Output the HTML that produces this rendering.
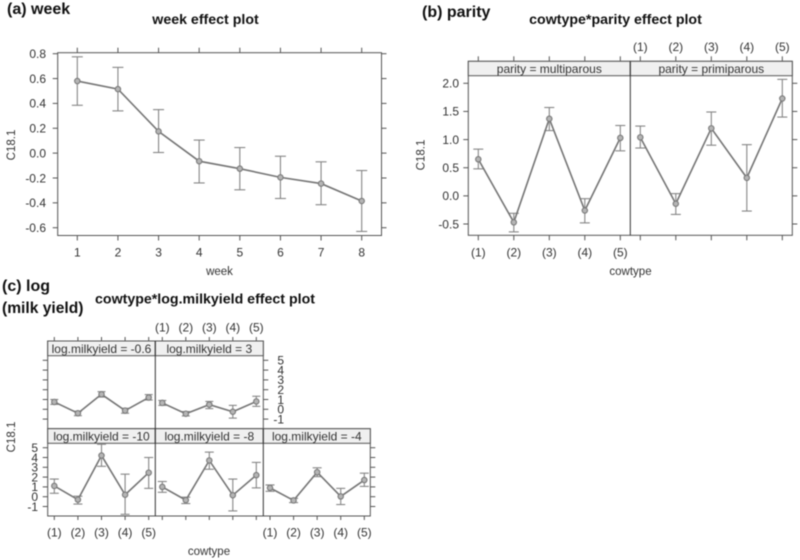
<!DOCTYPE html>
<html>
<head>
<meta charset="utf-8">
<style>
html,body{margin:0;padding:0;background:#fff;width:800px;height:560px;overflow:hidden}
svg{display:block;filter:blur(0.4px)}
text{font-family:"Liberation Sans",sans-serif;fill:#333}
.h{font-weight:bold;fill:#111}
</style>
</head>
<body>
<svg id="chart" xmlns="http://www.w3.org/2000/svg" width="800" height="560" viewBox="0 0 800 560">
<text class="h" x="7" y="14" font-size="16">(a) week</text>
<text class="h" x="205.5" y="24" font-size="14.2" text-anchor="middle">week effect plot</text>
<text class="h" x="422" y="17" font-size="16">(b) parity</text>
<text class="h" x="615.5" y="24" font-size="14.2" text-anchor="middle">cowtype*parity effect plot</text>
<text class="h" x="2" y="291" font-size="16">(c) log</text>
<text class="h" x="2" y="313" font-size="15.6">(milk yield)</text>
<text class="h" x="205" y="303.5" font-size="14.2" text-anchor="middle">cowtype*log.milkyield effect plot</text>
</svg>
<script>
// ---- data: panel (a)
const weekCats = ['1','2','3','4','5','6','7','8'];
const weekMean = [0.58,0.515,0.175,-0.065,-0.125,-0.195,-0.245,-0.385];
const weekLo = [0.385,0.34,0.005,-0.24,-0.295,-0.365,-0.415,-0.63];
const weekHi = [0.775,0.69,0.35,0.105,0.045,-0.025,-0.07,-0.14];
const weekYTicks = ['0.8','0.6','0.4','0.2','0.0','-0.2','-0.4','-0.6'];
// ---- data: shared categories
const cowCats = ['(1)','(2)','(3)','(4)','(5)'];
// ---- data: panel (b)
const parityYTicks = ['2.0','1.5','1.0','0.5','0.0','-0.5'];
const multiMean = [0.65,-0.47,1.37,-0.26,1.03];
const multiLo = [0.48,-0.64,1.16,-0.48,0.80];
const multiHi = [0.83,-0.31,1.57,-0.05,1.25];
const primMean = [1.04,-0.14,1.20,0.32,1.73];
const primLo = [0.85,-0.33,0.90,-0.27,1.40];
const primHi = [1.24,0.04,1.49,0.91,2.07];
// ---- data: panel (c)
const milkYTicks = ['5','4','3','2','1','0','-1'];
const m06Mean = [0.75,-0.4,1.53,-0.13,1.2];
const m06Lo = [0.5,-0.65,1.25,-0.4,0.95];
const m06Hi = [1.0,-0.2,1.8,0.1,1.5];
const p3Mean = [0.65,-0.45,0.48,-0.25,0.8];
const p3Lo = [0.4,-0.68,0.07,-0.9,0.3];
const p3Hi = [0.9,-0.23,0.8,0.4,1.33];
const m10Mean = [1.1,-0.3,4.2,0.2,2.45];
const m10Lo = [0.35,-0.75,3.1,-1.8,0.85];
const m10Hi = [1.8,0.05,5.35,2.3,4.0];
const m8Mean = [1.0,-0.35,3.7,0.15,2.2];
const m8Lo = [0.45,-0.7,2.8,-1.45,0.9];
const m8Hi = [1.55,-0.05,4.55,1.8,3.5];
const m4Mean = [0.9,-0.38,2.5,0.03,1.7];
const m4Lo = [0.55,-0.6,2.05,-0.8,1.05];
const m4Hi = [1.2,-0.17,2.95,0.85,2.4];

const svg = document.getElementById('chart');
const NS = 'http://www.w3.org/2000/svg';
const FRAME = '#555';
const SER = '#757575';

function line(name, x1, y1, x2, y2, color, w) {
  const el = document.createElementNS(NS, 'line');
  
  
  el.setAttribute('x1', x1);
  el.setAttribute('y1', y1);
  el.setAttribute('x2', x2);
  el.setAttribute('y2', y2);
  el.setAttribute('stroke', color);
  el.setAttribute('stroke-width', w);
  svg.appendChild(el);
}
function rect(name, x, y, w, h, fill, stroke) {
  const el = document.createElementNS(NS, 'rect');
  
  
  el.setAttribute('x', x);
  el.setAttribute('y', y);
  el.setAttribute('width', w);
  el.setAttribute('height', h);
  el.setAttribute('fill', fill);
  el.setAttribute('stroke', stroke);
  el.setAttribute('stroke-width', 1);
  svg.appendChild(el);
}
function label(name, x, y, str, anchor, size, rot) {
  const el = document.createElementNS(NS, 'text');
  
  
  el.setAttribute('x', x);
  el.setAttribute('y', y);
  el.setAttribute('text-anchor', anchor);
  el.setAttribute('font-size', size);
  if (rot) el.setAttribute('transform', 'rotate(-90 ' + x + ' ' + y + ')');
  el.textContent = str;
  svg.appendChild(el);
}
function series(name, xf, yf, mean, lo, hi, capW) {
  mean.forEach(function (v, i) {
    const x = xf(i);
    line(name + '-error-bar', x, yf(lo[i]), x, yf(hi[i]), '#858585', 1.1);
    line(name + '-lower-cap', x - capW, yf(lo[i]), x + capW, yf(lo[i]), '#858585', 1.1);
    line(name + '-upper-cap', x - capW, yf(hi[i]), x + capW, yf(hi[i]), '#858585', 1.1);
  });
  const p = document.createElementNS(NS, 'polyline');
  
  
  p.setAttribute('points', mean.map(function (v, i) { return xf(i) + ',' + yf(v); }).join(' '));
  p.setAttribute('fill', 'none');
  p.setAttribute('stroke', SER);
  p.setAttribute('stroke-width', 1.6);
  svg.appendChild(p);
  mean.forEach(function (v, i) {
    const c = document.createElementNS(NS, 'circle');
    
    
    c.setAttribute('cx', xf(i));
    c.setAttribute('cy', yf(v));
    c.setAttribute('r', 2.7);
    c.setAttribute('fill', '#b5b5b5');
    c.setAttribute('stroke', '#7a7a7a');
    c.setAttribute('stroke-width', 1.1);
    svg.appendChild(c);
  });
}
function linScale(v0, p0, v1, p1) {
  return function (v) { return p0 + (v - v0) * (p1 - p0) / (v1 - v0); };
}

// ---------- panel (a)
(function () {
  const L = 57.7, R = 381.5, T = 52.7, B = 235.5;
  const xi = linScale(0, 77.3, weekCats.length - 1, 361.7);
  const y = linScale(0.8, 53.7, -0.6, 227.7);
  rect('week-plot-frame', L, T, R - L, B - T, '#fff', FRAME);
  weekCats.forEach(function (c, i) {
    line('week-bottom-tick', xi(i), B, xi(i), B + 5, FRAME, 1);
    line('week-top-tick', xi(i), T, xi(i), T - 5, FRAME, 1);
    label('week-x-tick-label', xi(i), 256.5, c, 'middle', 12);
  });
  weekYTicks.forEach(function (t) {
    const py = y(parseFloat(t));
    line('week-left-tick', L, py, L - 5, py, FRAME, 1);
    line('week-right-tick', R, py, R + 5, py, FRAME, 1);
    label('week-y-tick-label', 46, py + 4.3, t, 'end', 12);
  });
  series('week-series', xi, y, weekMean, weekLo, weekHi, 5.5);
  label('week-x-axis-title', 219.5, 275, 'week', 'middle', 11.5);
  label('week-y-axis-title', 15, 145, 'C18.1', 'middle', 11.5, true);
})();

// ---------- panel (b)
(function () {
  const L = 468.3, M = 630.3, R = 792.3, ST = 61.3, SB = 75.7, B = 235.3;
  const y = linScale(2.0, 83.3, -0.5, 224);
  const x1 = linScale(0, 478.3, 4, 620.3);
  const x2 = linScale(0, 640.3, 4, 782.3);
  rect('parity-plot-frame', L, ST, R - L, B - ST, '#fff', FRAME);
  rect('parity-strip-multiparous', L, ST, M - L, SB - ST, '#f0f0f0', FRAME);
  rect('parity-strip-primiparous', M, ST, R - M, SB - ST, '#f0f0f0', FRAME);
  line('parity-panel-divider', M, ST, M, B, '#333', 1);
  label('parity-strip-label-multiparous', (L + M) / 2, 73, 'parity = multiparous', 'middle', 12);
  label('parity-strip-label-primiparous', (M + R) / 2, 73, 'parity = primiparous', 'middle', 12);
  cowCats.forEach(function (c, i) {
    line('parity-top-tick', x1(i), ST, x1(i), ST - 5, FRAME, 1);
    line('parity-top-tick', x2(i), ST, x2(i), ST - 5, FRAME, 1);
    line('parity-bottom-tick', x1(i), B, x1(i), B + 5, FRAME, 1);
    line('parity-bottom-tick', x2(i), B, x2(i), B + 5, FRAME, 1);
    label('parity-bottom-tick-label', x1(i), 256.5, c, 'middle', 12);
    label('parity-top-tick-label', x2(i), 51, c, 'middle', 12);
  });
  parityYTicks.forEach(function (t) {
    const py = y(parseFloat(t));
    line('parity-left-tick', L, py, L - 5, py, FRAME, 1);
    line('parity-right-tick', R, py, R + 5, py, FRAME, 1);
    label('parity-y-tick-label', 459, py + 4.3, t, 'end', 12);
  });
  series('multiparous-series', x1, y, multiMean, multiLo, multiHi, 5);
  series('primiparous-series', x2, y, primMean, primLo, primHi, 5);
  label('parity-x-axis-title', 630.5, 275, 'cowtype', 'middle', 11.5);
  label('parity-y-axis-title', 424.5, 155, 'C18.1', 'middle', 11.5, true);
})();

// ---------- panel (c)
(function () {
  const L = 47.7, M1 = 155.3, M2 = 263.3, R = 370.3;
  const T1 = 341, S1 = 355.7, T2 = 428.7, S2 = 443.3, B = 516;
  const yBottom = linScale(0, 496.7, 5, 447.7);
  const yTop = linScale(0, 409.3, 5, 360.3);
  const x1 = linScale(0, 54.3, 4, 148.7);
  const x2 = linScale(0, 162.3, 4, 256.3);
  const x3 = linScale(0, 270, 4, 364.3);
  rect('milk-top-row-frame', L, T1, M2 - L, T2 - T1, '#fff', FRAME);
  rect('milk-bottom-row-frame', L, T2, R - L, B - T2, '#fff', FRAME);
  rect('milk-strip-minus-0-6', L, T1, M1 - L, S1 - T1, '#f0f0f0', FRAME);
  rect('milk-strip-3', M1, T1, M2 - M1, S1 - T1, '#f0f0f0', FRAME);
  rect('milk-strip-minus-10', L, T2, M1 - L, S2 - T2, '#f0f0f0', FRAME);
  rect('milk-strip-minus-8', M1, T2, M2 - M1, S2 - T2, '#f0f0f0', FRAME);
  rect('milk-strip-minus-4', M2, T2, R - M2, S2 - T2, '#f0f0f0', FRAME);
  line('milk-divider-1', M1, T1, M1, B, '#333', 1);
  line('milk-divider-2', M2, T2, M2, B, '#333', 1);
  label('milk-strip-label', (L + M1) / 2, 353, 'log.milkyield = -0.6', 'middle', 12);
  label('milk-strip-label', (M1 + M2) / 2, 353, 'log.milkyield = 3', 'middle', 12);
  label('milk-strip-label', (L + M1) / 2, 440.5, 'log.milkyield = -10', 'middle', 12);
  label('milk-strip-label', (M1 + M2) / 2, 440.5, 'log.milkyield = -8', 'middle', 12);
  label('milk-strip-label', (M2 + R) / 2, 440.5, 'log.milkyield = -4', 'middle', 12);
  cowCats.forEach(function (c, i) {
    line('milk-top-tick', x1(i), T1, x1(i), T1 - 4, FRAME, 1);
    line('milk-top-tick', x2(i), T1, x2(i), T1 - 4, FRAME, 1);
    line('milk-bottom-tick', x1(i), B, x1(i), B + 4, FRAME, 1);
    line('milk-bottom-tick', x2(i), B, x2(i), B + 4, FRAME, 1);
    line('milk-bottom-tick', x3(i), B, x3(i), B + 4, FRAME, 1);
    label('milk-top-tick-label', x2(i), 331.5, c, 'middle', 12);
    label('milk-bottom-tick-label', x1(i), 536.5, c, 'middle', 12);
    label('milk-bottom-tick-label', x3(i), 536.5, c, 'middle', 12);
  });
  milkYTicks.forEach(function (t) {
    const v = parseFloat(t);
    line('milk-left-tick-top', L, yTop(v), L - 5, yTop(v), FRAME, 1);
    line('milk-right-tick-top', M2, yTop(v), M2 + 5, yTop(v), FRAME, 1);
    label('milk-right-tick-label', 284, yTop(v) + 4.3, t, 'end', 12);
    line('milk-left-tick-bottom', L, yBottom(v), L - 5, yBottom(v), FRAME, 1);
    line('milk-right-tick-bottom', R, yBottom(v), R + 5, yBottom(v), FRAME, 1);
    label('milk-left-tick-label', 38, yBottom(v) + 4.3, t, 'end', 12);
  });
  series('milk-minus-0-6-series', x1, yTop, m06Mean, m06Lo, m06Hi, 4);
  series('milk-3-series', x2, yTop, p3Mean, p3Lo, p3Hi, 4);
  series('milk-minus-10-series', x1, yBottom, m10Mean, m10Lo, m10Hi, 4.5);
  series('milk-minus-8-series', x2, yBottom, m8Mean, m8Lo, m8Hi, 4.5);
  series('milk-minus-4-series', x3, yBottom, m4Mean, m4Lo, m4Hi, 4.5);
  label('milk-x-axis-title', 209, 555, 'cowtype', 'middle', 11.5);
  label('milk-y-axis-title', 15, 437, 'C18.1', 'middle', 11.5, true);
})();
</script>
</body>
</html>
